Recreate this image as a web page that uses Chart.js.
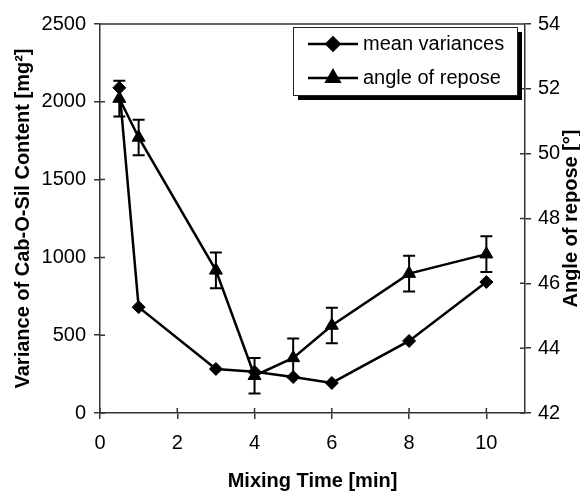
<!DOCTYPE html>
<html>
<head>
<meta charset="utf-8">
<script src="https://cdn.jsdelivr.net/npm/chart.js@4.4.1/dist/chart.umd.min.js"></script>
<style>
  html, body { margin: 0; padding: 0; background: #fff; }
  #wrap { width: 580px; height: 491px; }
</style>
</head>
<body>
<div id="wrap"><canvas id="chart"></canvas></div>
<script>
// data
const mixingTime = [0.5, 1, 3, 4, 5, 6, 8, 10];
const meanVariances = [2090, 680, 283, 265, 231, 193, 463, 842];
const angleOfRepose = [51.7, 50.5, 46.4, 43.15, 43.7, 44.7, 46.3, 46.9];
const angleError = [0.55, 0.55, 0.55, 0.55, 0.6, 0.55, 0.55, 0.55];

const FONT = "'Liberation Sans', Arial, Helvetica, sans-serif";
const AXIS = '#333';

// error bars on the angle of repose series
const errorBars = {
  id: 'errorBars',
  afterDatasetsDraw(chart) {
    const x = chart.scales.x, y = chart.scales.y1, ctx = chart.ctx;
    ctx.save();
    ctx.strokeStyle = '#000';
    ctx.lineWidth = 2;
    mixingTime.forEach((t, i) => {
      const px = x.getPixelForValue(t);
      const top = y.getPixelForValue(angleOfRepose[i] + angleError[i]);
      const bot = y.getPixelForValue(angleOfRepose[i] - angleError[i]);
      ctx.beginPath();
      ctx.moveTo(px, top); ctx.lineTo(px, bot);
      ctx.moveTo(px - 6, top); ctx.lineTo(px + 6, top);
      ctx.moveTo(px - 6, bot); ctx.lineTo(px + 6, bot);
      ctx.stroke();
    });
    ctx.restore();
  }
};

// top border, inner half of the tick marks, right axis title (reads upwards)
const frame = {
  id: 'frame',
  afterDraw(chart) {
    const ctx = chart.ctx, a = chart.chartArea;
    ctx.save();
    ctx.strokeStyle = AXIS;
    ctx.lineWidth = 1.5;
    ctx.beginPath();
    ctx.moveTo(a.left, a.top); ctx.lineTo(a.right, a.top);
    chart.scales.x.ticks.forEach(t => {
      const px = chart.scales.x.getPixelForValue(t.value);
      ctx.moveTo(px, a.bottom); ctx.lineTo(px, a.bottom - 5);
    });
    chart.scales.y.ticks.forEach(t => {
      const py = chart.scales.y.getPixelForValue(t.value);
      ctx.moveTo(a.left, py); ctx.lineTo(a.left + 5, py);
    });
    chart.scales.y1.ticks.forEach(t => {
      const py = chart.scales.y1.getPixelForValue(t.value);
      ctx.moveTo(a.right, py); ctx.lineTo(a.right - 5, py);
    });
    ctx.stroke();

    ctx.translate(571, (a.top + a.bottom) / 2);
    ctx.rotate(-Math.PI / 2);
    ctx.fillStyle = '#000';
    ctx.font = 'bold 20px ' + FONT;
    ctx.textAlign = 'center';
    ctx.textBaseline = 'middle';
    ctx.fillText('Angle of repose [°]', 0, 0);
    ctx.restore();
  }
};

// boxed legend with drop shadow
const boxLegend = {
  id: 'boxLegend',
  afterDraw(chart) {
    const ctx = chart.ctx;
    const bx = 293, by = 27, bw = 224, bh = 68;
    ctx.save();
    ctx.fillStyle = '#000';
    ctx.fillRect(bx + 5, by + 5, bw, bh);
    ctx.fillStyle = '#fff';
    ctx.fillRect(bx, by, bw, bh);
    ctx.strokeStyle = '#222';
    ctx.lineWidth = 1;
    ctx.strokeRect(bx + 0.5, by + 0.5, bw, bh);
    ctx.font = '20px ' + FONT;
    ctx.textBaseline = 'middle';
    chart.data.datasets.forEach((ds, i) => {
      const ly = by + 17 + i * 34;
      ctx.strokeStyle = '#000';
      ctx.fillStyle = '#000';
      ctx.lineWidth = ds.borderWidth;
      ctx.beginPath();
      ctx.moveTo(308, ly); ctx.lineTo(358, ly);
      ctx.stroke();
      Chart.helpers.drawPoint(ctx, {
        pointStyle: ds.pointStyle, radius: ds.pointRadius, rotation: 0, borderWidth: 1
      }, 333, ly);
      ctx.fillText(ds.label, 363, ly);
    });
    ctx.restore();
  }
};

const tickFont = { family: FONT, size: 20 };
const plain = v => String(v);

new Chart(document.getElementById('chart'), {
  type: 'scatter',
  data: {
    datasets: [
      {
        label: 'mean variances',
        data: mixingTime.map((t, i) => ({ x: t, y: meanVariances[i] })),
        yAxisID: 'y',
        showLine: true,
        borderColor: '#000',
        backgroundColor: '#000',
        borderWidth: 2.5,
        pointStyle: 'rectRot',
        pointRadius: 6.5,
        pointBorderWidth: 1
      },
      {
        label: 'angle of repose',
        data: mixingTime.map((t, i) => ({ x: t, y: angleOfRepose[i] })),
        yAxisID: 'y1',
        showLine: true,
        borderColor: '#000',
        backgroundColor: '#000',
        borderWidth: 2.5,
        pointStyle: 'triangle',
        pointRadius: 7.5,
        pointBorderWidth: 1
      }
    ]
  },
  options: {
    responsive: true,
    maintainAspectRatio: false,
    animation: false,
    devicePixelRatio: 1,
    layout: { padding: { top: 24, left: 0, right: 0, bottom: 0 } },
    plugins: {
      legend: { display: false },
      tooltip: { enabled: false }
    },
    scales: {
      x: {
        type: 'linear',
        min: 0,
        max: 11,
        afterBuildTicks: s => { s.ticks = s.ticks.filter(t => t.value <= 10); },
        afterFit: s => { s.height = 78; },
        ticks: { stepSize: 2, color: '#000', padding: 12, font: tickFont, callback: plain },
        grid: { drawOnChartArea: false, tickLength: 6, color: AXIS, lineWidth: 1.5 },
        border: { color: AXIS, width: 1.5 },
        title: {
          display: true,
          text: 'Mixing Time [min]',
          color: '#000',
          padding: 0,
          font: { family: FONT, size: 20, weight: 'bold', lineHeight: 1 }
        }
      },
      y: {
        position: 'left',
        min: 0,
        max: 2500,
        afterFit: s => { s.width = 100; },
        ticks: { stepSize: 500, color: '#000', padding: 8, font: tickFont, callback: plain },
        grid: { drawOnChartArea: false, tickLength: 6, color: AXIS, lineWidth: 1.5 },
        border: { color: AXIS, width: 1.5 },
        title: {
          display: true,
          text: 'Variance of Cab-O-Sil Content [mg²]',
          color: '#000',
          padding: { top: 11, bottom: 0 },
          font: { family: FONT, size: 20, weight: 'bold', lineHeight: 1.2 }
        }
      },
      y1: {
        position: 'right',
        min: 42,
        max: 54,
        afterFit: s => { s.width = 55; },
        ticks: { stepSize: 2, color: '#000', padding: 7, font: tickFont, callback: plain },
        grid: { drawOnChartArea: false, tickLength: 6, color: AXIS, lineWidth: 1.5 },
        border: { color: AXIS, width: 1.5 }
      }
    }
  },
  plugins: [errorBars, frame, boxLegend]
});
</script>
</body>
</html>
